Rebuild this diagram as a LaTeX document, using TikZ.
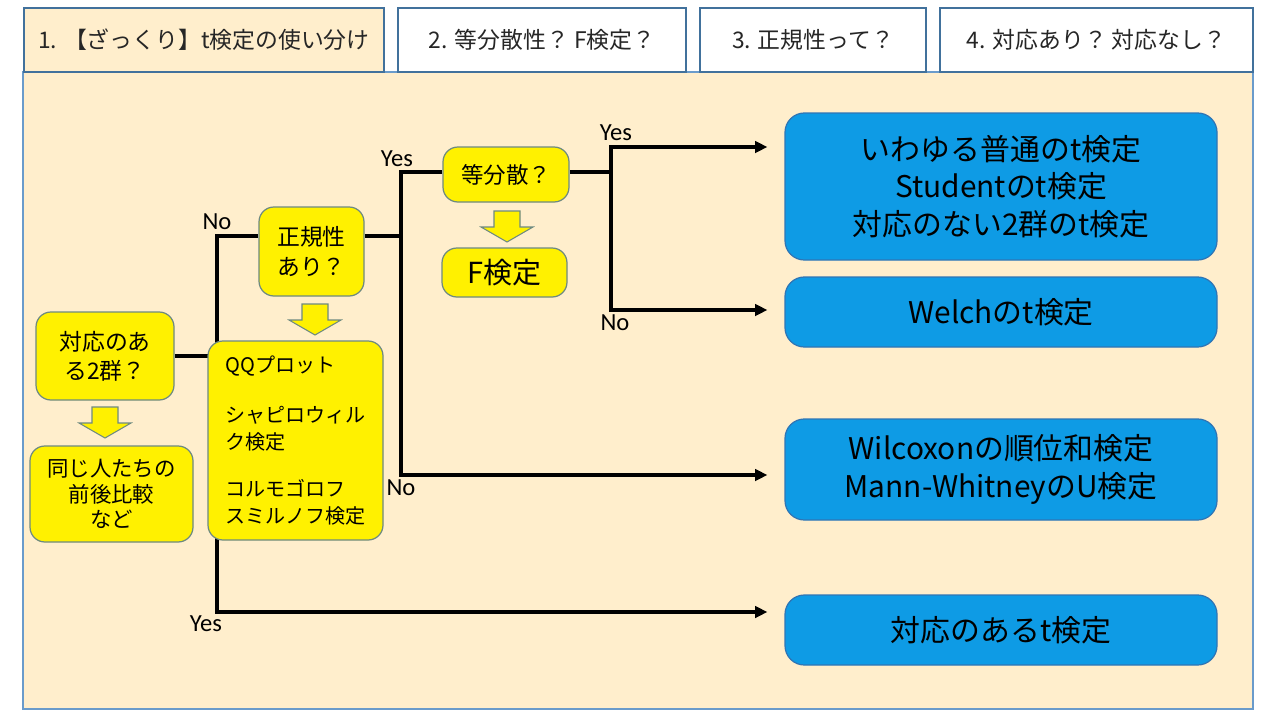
\documentclass[tikz,border=0pt]{standalone}
\usepackage{fontspec}
\setmainfont{Noto Sans CJK JP}
\newfontfamily\latinfont{Carlito}
\usetikzlibrary{calc,arrows.meta}

\pgfdeclarelayer{bg}
\pgfdeclarelayer{lines}
\pgfsetlayers{bg,lines,main}

\definecolor{panelbeige}{HTML}{FFEECC}
\definecolor{tabedge}{HTML}{41719C}
\definecolor{paneledge}{HTML}{6A9BCB}
\definecolor{boxyellow}{HTML}{FFF100}
\definecolor{yellowedge}{HTML}{6E8A80}
\definecolor{boxblue}{HTML}{0E9BE5}
\definecolor{blueedge}{HTML}{2F75B5}

\def\px{0.02cm}

\tikzset{
    tab/.style={draw=tabedge, line width=0.8pt, minimum height=64*\px, inner sep=0pt,
        font=\fontsize{13}{15}\selectfont, text=black!85},
    ybox/.style={draw=yellowedge, fill=boxyellow, line width=0.7pt, rounded corners=8.5pt,
        inner sep=0pt, align=center},
    bbox/.style={draw=blueedge, fill=boxblue, line width=0.7pt, rounded corners=11pt,
        inner sep=0pt, align=center, minimum width=432*\px, font=\fontsize{17}{21.5}\selectfont},
    conn/.style={line width=2pt},
    flow/.style={conn, -{Triangle[length=7pt,width=6.5pt]}},
    lbl/.style={font=\latinfont\fontsize{14}{16}\selectfont, inner sep=0pt},
    blockarr/.style={draw=yellowedge, fill=boxyellow, line width=0.6pt, line join=miter},
}

\begin{document}
\begin{tikzpicture}[x=\px, y=-\px]

    % Page and panel
    \begin{pgfonlayer}{bg}
        \fill[white] (0,0) rectangle (1280,720);
        \draw[paneledge, fill=panelbeige, line width=0.8pt] (23,72) rectangle (1253,709);
    \end{pgfonlayer}
    \useasboundingbox (0,0) rectangle (1280,720);

    % Tabs
    \node[tab, fill=panelbeige, minimum width=360*\px] (tabA) at (204,40) {1. 【ざっくり】t検定の使い分け};
    \node[tab, fill=white, minimum width=288*\px] (tabB) at (542,40) {2. 等分散性？ F検定？};
    \node[tab, fill=white, minimum width=226*\px] (tabC) at (813,40) {3. 正規性って？};
    \node[tab, fill=white, minimum width=313*\px] (tabD) at (1096.5,40) {4. 対応あり？ 対応なし？};

    % Yellow boxes
    \node[ybox, minimum width=138*\px, minimum height=88*\px, font=\fontsize{13}{16.5}\selectfont]
        (taiou) at (105,356) {対応のあ\\る2群？};
    \node[ybox, minimum width=163*\px, minimum height=96*\px, font=\fontsize{12.2}{14.6}\selectfont]
        (onaji) at (111.5,494) {同じ人たちの\\前後比較\\など};
    \node[ybox, minimum width=105*\px, minimum height=89*\px, font=\fontsize{13}{17}\selectfont]
        (seiki) at (311.5,251.5) {正規性\\あり？};
    \node[ybox, align=left, minimum width=175*\px, minimum height=199*\px, font=\fontsize{11.4}{15.3}\selectfont]
        (qq) at (295.5,440.5) {QQプロット\\[13pt]シャピロウィル\\ク検定\\[11.5pt]コルモゴロフ\\スミルノフ検定};
    \node[ybox, minimum width=126*\px, minimum height=55*\px, font=\fontsize{12.8}{15}\selectfont]
        (touben) at (506,174.5) {等分散？};
    \node[ybox, minimum width=125*\px, minimum height=49*\px, font=\fontsize{16.5}{19}\selectfont]
        (ftest) at (504.5,272.5) {F検定};

    % Blue boxes
    \node[bbox, minimum height=147*\px] (student) at (1001,186.5) {いわゆる普通のt検定\\Studentのt検定\\対応のない2群のt検定};
    \node[bbox, minimum height=70*\px] (welch) at (1001,312) {Welchのt検定};
    \node[bbox, minimum height=101*\px] (wilcox) at (1001,469.5) {Wilcoxonの順位和検定\\Mann-WhitneyのU検定};
    \node[bbox, minimum height=70*\px] (paired) at (1001,630) {対応のあるt検定};

    % Block arrows
    \foreach \cx/\ty in {105/407, 315/304, 507/211}
        \draw[blockarr] (\cx-13,\ty) -- (\cx+13,\ty) -- (\cx+13,\ty+16) -- (\cx+26,\ty+16)
            -- (\cx,\ty+31) -- (\cx-26,\ty+16) -- (\cx-13,\ty+16) -- cycle;

    % Branch points
    \coordinate (nA) at (217,236);
    \coordinate (yA) at (217,612);
    \coordinate (sB) at (401,236);
    \coordinate (yB) at (401,172);
    \coordinate (nB) at (401,475);
    \coordinate (sC) at (611,172);
    \coordinate (yC) at (611,147);
    \coordinate (nC) at (611,310);

    % Connectors
    \begin{pgfonlayer}{lines}
        \draw[conn] (taiou.east) -- (taiou.east -| nA);
        \draw[flow] (nA -| seiki.west) -- (nA) -- (yA) -- ($(yA -| paired.west)+(-17,0)$);
        \draw[conn] (sB -| seiki.east) -- (sB);
        \draw[flow] (yB -| touben.west) -- (yB) -- (nB) -- ($(nB -| wilcox.west)+(-17,0)$);
        \draw[conn] (sC -| touben.east) -- (sC);
        \draw[flow] (sC) -- (yC) -- ($(yC -| student.west)+(-17,0)$);
        \draw[flow] (sC) -- (nC) -- ($(nC -| welch.west)+(-17,0)$);
    \end{pgfonlayer}

    % Yes / No labels
    \node[lbl] (noA) at (217,222) {No};
    \node[lbl] (yesA) at (206,624) {Yes};
    \node[lbl] (yesB) at (397,159) {Yes};
    \node[lbl] (noB) at (401,488) {No};
    \node[lbl] (yesC) at (616,133) {Yes};
    \node[lbl] (noC) at (615,323) {No};

\end{tikzpicture}
\end{document}
